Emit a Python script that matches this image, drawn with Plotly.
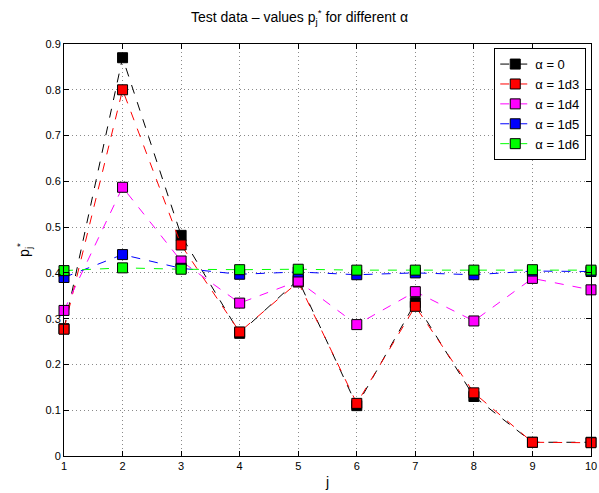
import plotly.graph_objects as go

j = [1, 2, 3, 4, 5, 6, 7, 8, 9, 10]

alpha_0 = [0.278, 0.870, 0.482, 0.268, 0.385, 0.110, 0.335, 0.130, 0.030, 0.030]
alpha_1d3 = [0.277, 0.800, 0.461, 0.271, 0.380, 0.115, 0.327, 0.138, 0.030, 0.029]
alpha_1d4 = [0.318, 0.587, 0.426, 0.334, 0.382, 0.287, 0.359, 0.295, 0.388, 0.363]
alpha_1d5 = [0.390, 0.440, 0.410, 0.397, 0.402, 0.396, 0.400, 0.396, 0.404, 0.403]
alpha_1d6 = [0.405, 0.411, 0.408, 0.407, 0.408, 0.406, 0.406, 0.406, 0.407, 0.406]

series = [
    ("α = 0", alpha_0, "#000000"),
    ("α = 1d3", alpha_1d3, "#ff0000"),
    ("α = 1d4", alpha_1d4, "#ff00ff"),
    ("α = 1d5", alpha_1d5, "#0000ff"),
    ("α = 1d6", alpha_1d6, "#00ff00"),
]

x_ticks = j
y_ticks = [0, 0.1, 0.2, 0.3, 0.4, 0.5, 0.6, 0.7, 0.8, 0.9]

FONT = "Liberation Sans, Arial, sans-serif"

fig = go.Figure()
for name, vals, col in series:
    fig.add_trace(go.Scatter(
        x=j, y=vals, name=name, mode="lines+markers",
        line=dict(color=col, width=1, dash="dash"),
        marker=dict(symbol="square", size=10, color=col,
                    line=dict(color="#000000", width=1)),
        cliponaxis=False,
    ))

axis_common = dict(
    showline=True, linecolor="black", linewidth=1, mirror="ticks",
    ticks="inside", ticklen=5, tickcolor="black",
    showgrid=True, gridcolor="#8a8a8a", griddash="1px,3px", gridwidth=1,
    zeroline=False,
    tickfont=dict(family=FONT, size=11, color="black"),
)

fig.update_xaxes(range=[1, 10], tickvals=x_ticks, automargin=False,
                 title=dict(text="j", standoff=5,
                            font=dict(family=FONT, size=14, color="black")),
                 **axis_common)
fig.update_yaxes(range=[0, 0.9], tickvals=y_ticks, automargin=False,
                 ticktext=["0", "0.1", "0.2", "0.3", "0.4", "0.5", "0.6", "0.7", "0.8", "0.9"],
                 title=dict(text="p<sub>j</sub><sup>*</sup>", standoff=12,
                            font=dict(family=FONT, size=14, color="black")),
                 **axis_common)

fig.update_layout(
    width=599, height=493,
    margin=dict(l=64, r=8, t=44, b=37),
    paper_bgcolor="white", plot_bgcolor="white",
    title=dict(text="Test data – values p<sub>j</sub><sup>*</sup> for different α",
               x=0.5, xanchor="center", y=0.975, yanchor="top",
               font=dict(family=FONT, size=14, color="black")),
    legend=dict(x=0.991, y=0.99, xanchor="right", yanchor="top",
                bgcolor="white", bordercolor="black", borderwidth=1,
                font=dict(family=FONT, size=13, color="black"),
                itemwidth=30, tracegroupgap=0),
    showlegend=True,
)

fig.write_html("out.html")
